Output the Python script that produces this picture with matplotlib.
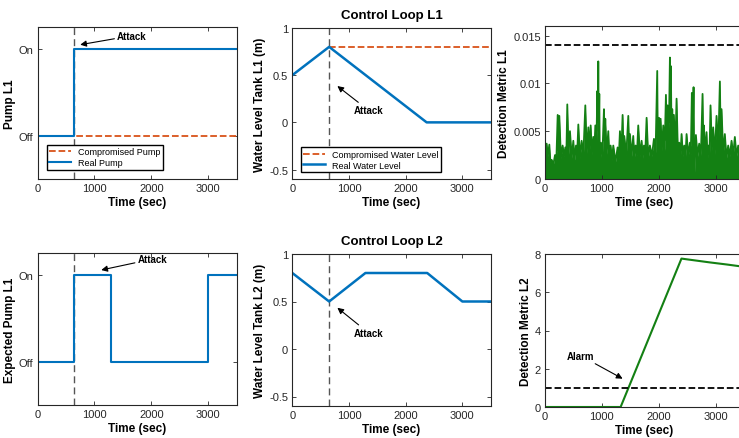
import numpy as np
import matplotlib
matplotlib.use('Agg')
import matplotlib.pyplot as plt

plt.rcParams['font.family'] = ['Liberation Sans', 'DejaVu Sans']
plt.rcParams['axes.unicode_minus'] = False

# colores estilo matlab
c_blue = '#0072BD'
c_orange = '#D95319'
c_green = '#138013'
c_axis = '#262626'

t_attack = 650
t_end = 3500

# bomba L1
t_pump = [0, 650, 650, 3500]
real_pump = [0, 0, 1, 1]
t_comp_pump = [0, 3500]
comp_pump = [0, 0]

# bomba esperada L1
t_exp = [0, 650, 650, 1300, 1300, 3000, 3000, 3500]
exp_pump = [0, 0, 1, 1, 0, 0, 1, 1]

# nivel tanque L1
t_lvl1 = [0, 650, 2370, 3500]
lvl1_real = [0.5, 0.8, 0.0, 0.0]
t_lvl1_comp = [650, 3500]
lvl1_comp = [0.8, 0.8]

# nivel tanque L2
t_lvl2 = [0, 650, 1290, 2380, 3000, 3500]
lvl2 = [0.8, 0.5, 0.8, 0.8, 0.5, 0.5]

# metrica deteccion L1 (picos y valles)
t_d1 = [0, 29, 50, 76, 95, 117, 150, 176, 200, 223, 238, 252, 280, 310, 335, 357,
        375, 392, 415, 439, 470, 498, 520, 545, 565, 586, 615, 644, 675, 709, 735, 762,
        782, 803, 825, 849, 867, 885, 903, 920, 930, 937, 946, 955, 965, 984, 1010, 1037,
        1048, 1060, 1085, 1113, 1133, 1154, 1178, 1201, 1240, 1277, 1298, 1318, 1342, 1365,
        1380, 1394, 1430, 1465, 1480, 1494, 1523, 1552, 1572, 1593, 1617, 1640, 1670, 1699,
        1720, 1740, 1763, 1787, 1816, 1845, 1880, 1916, 1945, 1974, 1988, 2003, 2018, 2033,
        2056, 2080, 2104, 2127, 2142, 2156, 2176, 2197, 2205, 2214, 2226, 2238, 2252, 2267,
        2290, 2314, 2338, 2361, 2380, 2402, 2425, 2449, 2470, 2490, 2520, 2548, 2565, 2583,
        2598, 2613, 2625, 2654, 2683, 2712, 2742, 2771, 2783, 2794, 2818, 2841, 2858, 2876,
        2893, 2911, 2935, 2958, 2988, 3017, 3046, 3076, 3090, 3105, 3134, 3163, 3192, 3222,
        3252, 3281, 3310, 3339, 3368, 3398, 3427, 3456, 3480, 3500]
d1 = [0.003, 0.0037, 0.0024, 0.0036, 0.0018, 0.002, 0.0016, 0.0025, 0.002, 0.0067, 0.003, 0.0066, 0.0022, 0.0035, 0.0024, 0.0033,
      0.0022, 0.0078, 0.0026, 0.005, 0.0022, 0.004, 0.002, 0.0035, 0.0024, 0.0057, 0.0022, 0.004, 0.0025, 0.0077, 0.0027, 0.0054,
      0.003, 0.0056, 0.0026, 0.0044, 0.0028, 0.0056, 0.003, 0.0092, 0.006, 0.0123, 0.005, 0.0089, 0.0, 0.0038, 0.0026, 0.0073,
      0.004, 0.0063, 0.0026, 0.005, 0.0022, 0.0035, 0.002, 0.0035, 0.0018, 0.0033, 0.0022, 0.005, 0.0026, 0.0067,
      0.003, 0.0045, 0.0025, 0.0066, 0.003, 0.0047, 0.0024, 0.0045, 0.0022, 0.0035, 0.0025, 0.0056, 0.0024, 0.004,
      0.0022, 0.0035, 0.0026, 0.0064, 0.0022, 0.0035, 0.0024, 0.0042, 0.0028, 0.0113, 0.0, 0.0064, 0.0035, 0.0063,
      0.003, 0.0056, 0.003, 0.0088, 0.004, 0.0077, 0.0035, 0.0127, 0.006, 0.0118, 0.004, 0.0073, 0.0035, 0.0067,
      0.003, 0.0084, 0.0026, 0.0038, 0.0022, 0.0047, 0.0024, 0.0035, 0.0022, 0.0047, 0.0024, 0.0038, 0.0026, 0.009,
      0.004, 0.0096, 0.0, 0.0046, 0.0024, 0.0037, 0.0025, 0.0089, 0.004, 0.0056, 0.0026, 0.0049, 0.0022, 0.0035,
      0.0026, 0.0077, 0.003, 0.0054, 0.0026, 0.0066, 0.003, 0.0102, 0.004, 0.0073, 0.0026, 0.0047, 0.0022, 0.0035,
      0.0024, 0.004, 0.0025, 0.0044, 0.0024, 0.0035, 0.0026, 0.006, 0.0026, 0.004]
thr1 = 0.014

# metrica deteccion L2
t_d2 = [0, 1330, 2400, 2900, 3200, 3500]
d2 = [0, 0, 7.76, 7.56, 7.45, 7.33]
thr2 = 1

W, H = 739, 439
fig = plt.figure(figsize=(W/100, H/100), dpi=100)

def mk_ax(x0, x1, y0, y1):
    # pixeles -> fraccion de figura
    ax = fig.add_axes([x0/W, 1 - y1/H, (x1 - x0)/W, (y1 - y0)/H])
    ax.tick_params(direction='in', top=True, right=True, length=3, width=0.6,
                   labelsize=8, colors=c_axis, pad=3)
    for s in ax.spines.values():
        s.set_linewidth(0.8)
        s.set_color(c_axis)
    ax.set_xlim(0, t_end)
    ax.set_xticks([0, 1000, 2000, 3000])
    ax.set_xlabel('Time (sec)', fontsize=8.5, fontweight='bold', labelpad=2)
    return ax

lab = dict(fontsize=8.5, fontweight='bold')
arw = dict(arrowstyle='-|>', color='k', lw=0.8, mutation_scale=9, shrinkA=0, shrinkB=0)
ann = dict(fontsize=7, fontweight='bold', va='center')
leg = dict(loc='lower left', borderaxespad=0, fontsize=6.5, fancybox=False, edgecolor='k',
           framealpha=1, handlelength=2.4, borderpad=0.3, labelspacing=0.2)

# fila 1
ax1 = mk_ax(37.5, 236.7, 28, 180)
ax1.axvline(t_attack, color='#555555', ls=(0, (5, 3)), lw=1)
l_comp, = ax1.plot(t_comp_pump, comp_pump, color=c_orange, ls='--', lw=1.3, label='Compromised Pump')
l_real, = ax1.plot(t_pump, real_pump, color=c_blue, lw=1.5, label='Real Pump')
ax1.set_ylim(-0.5, 1.25)
ax1.set_yticks([0, 1])
ax1.set_yticklabels(['Off', 'On'])
ax1.set_ylabel('Pump L1', labelpad=2, **lab)
ax1.legend(handles=[l_comp, l_real], bbox_to_anchor=(0.046, 0.06), **leg)
ax1.annotate('Attack', xy=(750, 1.046), xytext=(1400, 1.15), ha='left', arrowprops=arw, **ann)

ax2 = mk_ax(292.3, 490.7, 29, 180)
ax2.axvline(t_attack, color='#555555', ls=(0, (5, 3)), lw=1)
l_c2, = ax2.plot(t_lvl1_comp, lvl1_comp, color=c_orange, ls='--', lw=1.3, label='Compromised Water Level')
l_r2, = ax2.plot(t_lvl1, lvl1_real, color=c_blue, lw=1.8, label='Real Water Level')
ax2.set_ylim(-0.6, 1)
ax2.set_yticks([-0.5, 0, 0.5, 1])
ax2.set_yticklabels(['-0.5', '0', '0.5', '1'])
ax2.set_ylabel('Water Level Tank L1 (m)', labelpad=2, **lab)
ax2.set_title('Control Loop L1', fontsize=9.5, fontweight='bold', pad=7)
ax2.legend(handles=[l_c2, l_r2], bbox_to_anchor=(0.042, 0.044), **leg)
ax2.annotate('Attack', xy=(795, 0.385), xytext=(1340, 0.13), ha='center', arrowprops=arw, **ann)

ax3 = mk_ax(545, 744, 27, 180)
ax3.fill_between(t_d1, 0, d1, color=c_green, lw=0)
ax3.plot(t_d1, d1, color=c_green, lw=1.3)
ax3.axhline(thr1, color='k', ls='--', lw=1.3)
ax3.set_ylim(0, 0.016)
ax3.set_yticks([0, 0.005, 0.01, 0.015])
ax3.set_yticklabels(['0', '0.005', '0.01', '0.015'])
ax3.set_ylabel('Detection Metric L1', labelpad=2, **lab)

# fila 2
ax4 = mk_ax(37.5, 236.7, 254, 406)
ax4.axvline(t_attack, color='#555555', ls=(0, (5, 3)), lw=1)
ax4.plot(t_exp, exp_pump, color=c_blue, lw=1.5)
ax4.set_ylim(-0.5, 1.25)
ax4.set_yticks([0, 1])
ax4.set_yticklabels(['Off', 'On'])
ax4.set_ylabel('Expected Pump L1', labelpad=2, **lab)
ax4.annotate('Attack', xy=(1120, 1.054), xytext=(1760, 1.18), ha='left', arrowprops=arw, **ann)

ax5 = mk_ax(292.3, 490.7, 255, 407)
ax5.axvline(t_attack, color='#555555', ls=(0, (5, 3)), lw=1)
ax5.plot(t_lvl2, lvl2, color=c_blue, lw=1.8)
ax5.set_ylim(-0.6, 1)
ax5.set_yticks([-0.5, 0, 0.5, 1])
ax5.set_yticklabels(['-0.5', '0', '0.5', '1'])
ax5.set_ylabel('Water Level Tank L2 (m)', labelpad=2, **lab)
ax5.set_title('Control Loop L2', fontsize=9.5, fontweight='bold', pad=7)
ax5.annotate('Attack', xy=(795, 0.434), xytext=(1340, 0.172), ha='center', arrowprops=arw, **ann)

ax6 = mk_ax(545, 744, 255, 408)
ax6.plot(t_d2, d2, color=c_green, lw=1.5)
ax6.axhline(thr2, color='k', ls='--', lw=1.3)
ax6.set_ylim(0, 8)
ax6.set_yticks([0, 2, 4, 6, 8])
ax6.set_ylabel('Detection Metric L2', labelpad=2, **lab)
ax6.annotate('Alarm', xy=(1365, 1.48), xytext=(633, 2.67), ha='center', arrowprops=arw, **ann)

fig.savefig('out.png', dpi=100)
